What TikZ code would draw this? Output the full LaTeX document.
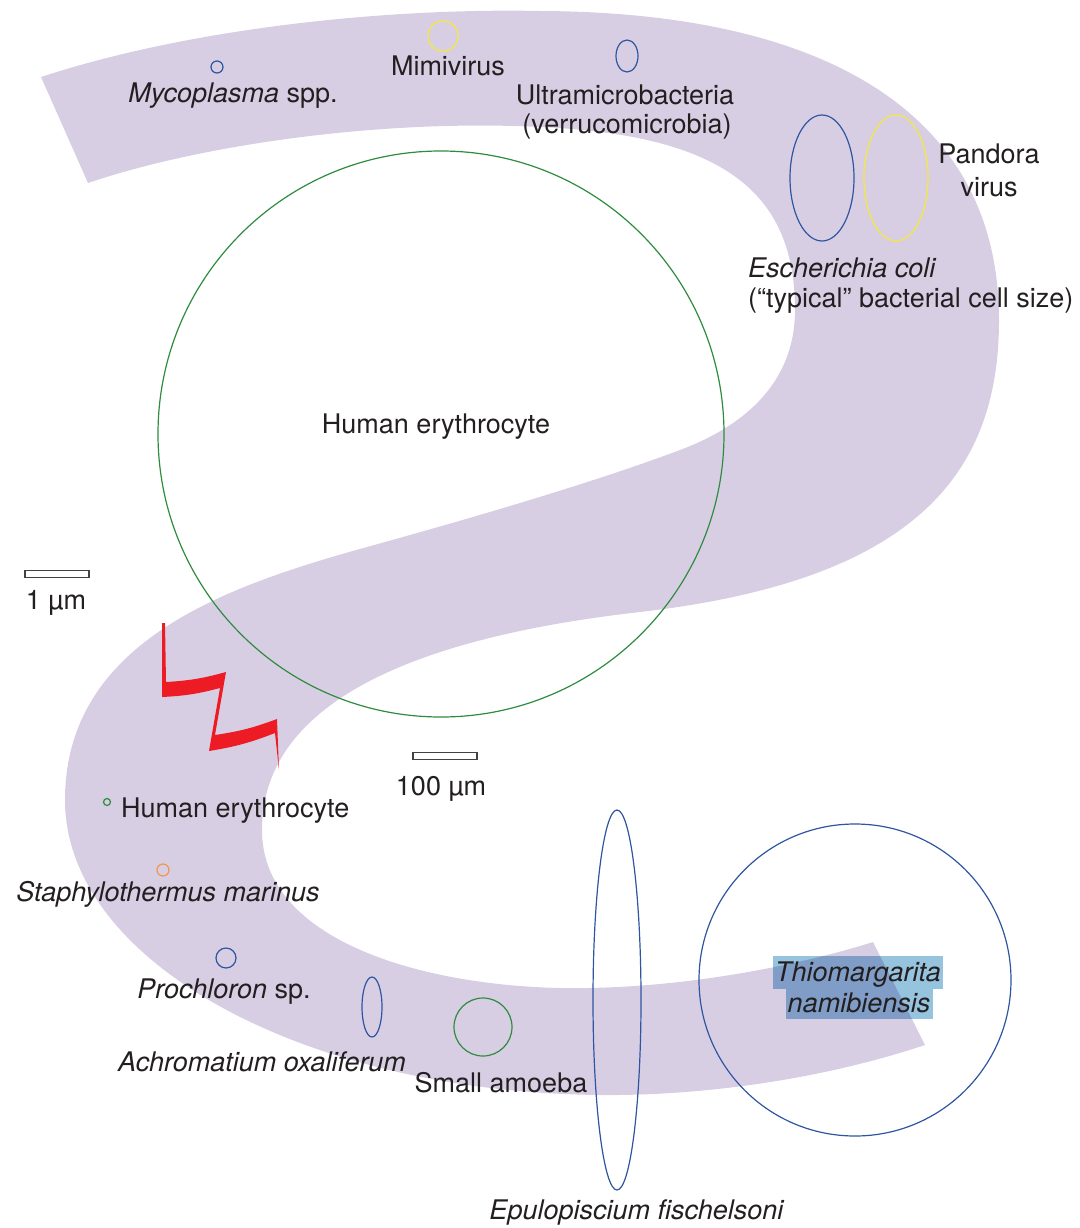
\documentclass[tikz,border=0pt]{standalone}
\usepackage{fontspec}
\setmainfont{TeX Gyre Heros}
\usepackage{tikz}
\usetikzlibrary{shapes.geometric}
\definecolor{bandlilac}{RGB}{216,206,228}
\definecolor{cellblue}{RGB}{45,85,160}
\definecolor{cellgreen}{RGB}{46,140,62}
\definecolor{cellyellow}{RGB}{245,232,60}
\definecolor{cellorange}{RGB}{240,150,80}
\definecolor{zigred}{RGB}{237,28,36}
\definecolor{tagblue}{RGB}{150,195,222}
\definecolor{ink}{RGB}{35,31,32}
\tikzset{
  cell/.style={ellipse, draw=#1, line width=1.2pt, inner sep=0pt},
  lbl/.style={font=\fontsize{27}{31}\selectfont, text=ink, inner sep=0pt, anchor=base},
  sizebar/.style={rectangle, draw=ink!85, line width=1.5pt, inner sep=0pt,
    minimum width=64pt, minimum height=7pt}}
\newcommand{\microbe}[6]{% name, x, y, width, height, colour
  \node[cell=#6, minimum width=#4pt, minimum height=#5pt] (#1) at (#2,#3) {};}

\begin{document}
\begin{tikzpicture}[x=1pt, y=-1pt]
  \useasboundingbox (0,0) rectangle (1079,1228);
  % the S-shaped band
  \fill[bandlilac] (41,77) .. controls (200,25) and (400,8) .. (540,11)
    .. controls (820,12) and (999,110) .. (999,320)
    .. controls (999,470) and (920,580) .. (640,612)
    .. controls (420,637) and (262,700) .. (262,830)
    .. controls (262,940) and (420,985) .. (560,988)
    .. controls (680,990) and (800,965) .. (873,942)
    -- (925,1045)
    .. controls (820,1080) and (700,1096) .. (600,1095)
    .. controls (300,1092) and (65,960) .. (65,800)
    .. controls (65,640) and (230,585) .. (367,547)
    .. controls (490,513) and (600,480) .. (680,450)
    .. controls (760,420) and (795,370) .. (795,310)
    .. controls (795,190) and (720,135) .. (540,127)
    .. controls (380,119) and (200,145) .. (88,183) -- cycle;
  % cells, smallest to largest
  \microbe{mycocell}{217}{67}{12}{12}{cellblue}
  \microbe{mimicell}{443}{36}{30}{30}{cellyellow}
  \microbe{ultracell}{627}{56}{22}{32}{cellblue}
  \microbe{colicell}{822}{178}{64}{126}{cellblue}
  \microbe{pandoracell}{896}{178}{64}{126}{cellyellow}
  \microbe{rbccell}{441}{434}{566}{566}{cellgreen}
  \microbe{rbcsmall}{107}{802}{7}{7}{cellgreen}
  \microbe{staphcell}{163}{870}{12}{12}{cellorange}
  \microbe{prochcell}{226}{958}{20}{20}{cellblue}
  \microbe{achrocell}{372}{1007}{20}{60}{cellblue}
  \microbe{amoebacell}{483}{1027}{58}{58}{cellgreen}
  \microbe{epulocell}{617}{1000}{48}{380}{cellblue}
  \microbe{thiocell}{855}{980}{312}{312}{cellblue}
  % break in scale
  \fill[zigred] (162,623) -- (165,623) -- (166,682) to[bend right=6] (226,672)
    -- (215,735) to[bend right=6] (277,719) -- (279,770) -- (275,733)
    to[bend left=6] (209,751) -- (220,688) to[bend left=6] (162,697) -- cycle;
  % scale bars
  \node[sizebar] (barsmall) at (57,574) {};
  \node[sizebar] (barlarge) at (445,756) {};
  % highlight behind Thiomargarita
  \begin{scope}[blend mode=multiply]
    \fill[tagblue] (773,956) rectangle (943,989);
    \fill[tagblue] (786,989) rectangle (933,1019);
  \end{scope}
  % labels
  \node[lbl] (myco) at (233,103) {\textit{Mycoplasma} spp.};
  \node[lbl] (mimi) at (448,76) {Mimivirus};
  \node[lbl] (ultra) at (625,105) {Ultramicrobacteria};
  \node[lbl] (verru) at (627,134) {(verrucomicrobia)};
  \node[lbl] (pandora) at (989,163) {Pandora};
  \node[lbl] (pvirus) at (989,196) {virus};
  \node[lbl, anchor=base west] (ecoli) at (748,277) {\textit{Escherichia coli}};
  \node[lbl, anchor=base west] (typical) at (748,307) {(“typical” bacterial cell size)};
  \node[lbl] (rbc) at (436,433) {Human erythrocyte};
  \node[lbl] (onemu) at (56,609) {1 µm};
  \node[lbl] (hundredmu) at (441,795) {100 µm};
  \node[lbl, anchor=base west] (rbcs) at (121,817) {Human erythrocyte};
  \node[lbl] (staph) at (168,901) {\textit{Staphylothermus marinus}};
  \node[lbl] (proch) at (224,998) {\textit{Prochloron} sp.};
  \node[lbl] (achro) at (262,1071) {\textit{Achromatium oxaliferum}};
  \node[lbl] (amoeba) at (501,1092) {Small amoeba};
  \node[lbl] (epulo) at (637,1219) {\textit{Epulopiscium fischelsoni}};
  \node[lbl] (thio) at (858,981) {\textit{Thiomargarita}};
  \node[lbl] (namib) at (859,1012) {\textit{namibiensis}};
\end{tikzpicture}
\end{document}
